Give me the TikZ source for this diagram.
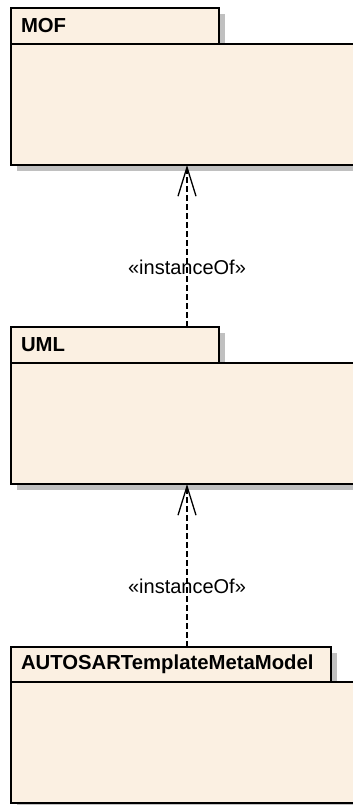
\documentclass[tikz,border=0pt]{standalone}
\usepackage{fontspec}
\setmainfont{Liberation Sans}
\usetikzlibrary{arrows.meta,shadows}

\definecolor{pkgfill}{HTML}{FBF0E2}
\definecolor{pkgshadow}{HTML}{C0C0C0}

\tikzset{
  pkg/.style={draw, line width=1.3pt, fill=pkgfill, outer sep=0pt,
    drop shadow={shadow xshift=6pt, shadow yshift=-6pt, fill=pkgshadow, opacity=1}},
  pkgtab/.style={pkg, anchor=north west, minimum height=36pt, inner xsep=10pt,
    align=left, font=\fontsize{20.3}{22}\selectfont\bfseries},
  pkgbody/.style={pkg, anchor=north west, minimum width=345pt, minimum height=121pt},
  instof/.style={line width=1.3pt, dash pattern=on 6pt off 3pt,
    -{Straight Barb[length=29pt,width=18pt]}},
  stereo/.style={font=\fontsize{20}{22}\selectfont, pos=.37}
}

\begin{document}
\begin{tikzpicture}[x=1pt,y=1pt]
  \useasboundingbox (0,0) rectangle (353,805);

  % packages
  \node[pkgtab, text width=188pt] (moftab) at (11,797) {MOF};
  \node[pkgbody] (mofbody) at (moftab.south west) {};

  \node[pkgtab, text width=188pt] (umltab) at (11,478) {UML};
  \node[pkgbody] (umlbody) at (umltab.south west) {};

  \node[pkgtab, text width=300pt, minimum height=35pt] (arttab) at (11,158) {AUTOSARTemplateMetaModel};
  \node[pkgbody] (artbody) at (arttab.south west) {};

  % instance relations
  \draw[instof] ([xshift=176pt]umltab.north west) -- ([xshift=176pt]mofbody.south west)
    node[stereo] {«instanceOf»};
  \draw[instof] ([xshift=176pt]arttab.north west) -- ([xshift=176pt]umlbody.south west)
    node[stereo] {«instanceOf»};
\end{tikzpicture}
\end{document}
